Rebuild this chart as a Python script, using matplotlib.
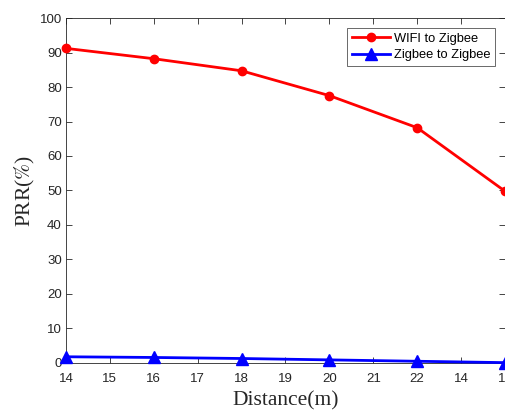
import matplotlib
matplotlib.use("Agg")
import matplotlib.pyplot as plt

# ── data ─────────────────────────────────────────────────────────────────────
distance = [14, 16, 18, 20, 22, 24]
wifi_prr = [91.2, 88.2, 84.7, 77.5, 68.2, 49.8]
zigbee_prr = [1.8, 1.6, 1.3, 0.9, 0.5, 0.1]

x_ticks = [14, 15, 16, 17, 18, 19, 20, 21, 22, 23, 24]
x_tick_labels = ["14", "15", "16", "17", "18", "19", "20", "21", "22", "14", "16"]
y_ticks = [0, 10, 20, 30, 40, 50, 60, 70, 80, 90, 100]

AX_COLOR = "#262626"

plt.rcParams["font.family"] = ["Liberation Sans", "DejaVu Sans"]
plt.rcParams["mathtext.fontset"] = "stix"

fig = plt.figure(figsize=(5.06, 4.13), dpi=100)
ax = fig.add_axes([0.1304, 0.1211, 0.8676, 0.8353])

ax.plot(distance, wifi_prr, color="#ff0000", linewidth=2, marker="o",
        markersize=6, label="WIFI to Zigbee", clip_on=False, zorder=3)
ax.plot(distance, zigbee_prr, color="#0000ff", linewidth=2, marker="^",
        markersize=8, label="Zigbee to Zigbee", clip_on=False, zorder=3)

ax.set_xlim(14, 24)
ax.set_ylim(0, 100)
ax.set_xticks(x_ticks)
ax.set_xticklabels(x_tick_labels)
ax.set_yticks(y_ticks)

ax.tick_params(direction="in", top=True, right=True, length=4.5, width=0.6,
               labelsize=9.5, colors=AX_COLOR, pad=7)
ax.tick_params(axis="y", pad=3)
for sp in ax.spines.values():
    sp.set_color(AX_COLOR)
    sp.set_linewidth(0.6)

ax.set_xlabel("Distance(m)", fontfamily="Liberation Serif", fontsize=15.5,
              color=AX_COLOR, labelpad=5)
ax.set_ylabel(r"PRR($\mathit{\%}$)", fontfamily="Liberation Serif",
              fontsize=15.5, color=AX_COLOR, labelpad=2)

leg = ax.legend(loc="upper right", bbox_to_anchor=(0.978, 0.97), fontsize=9.3,
                frameon=True, fancybox=False, edgecolor=AX_COLOR,
                handlelength=3.0, borderpad=0.35, labelspacing=0.35,
                handletextpad=0.3, borderaxespad=0)
leg.get_frame().set_linewidth(0.6)

fig.savefig("out.png", dpi=100)
